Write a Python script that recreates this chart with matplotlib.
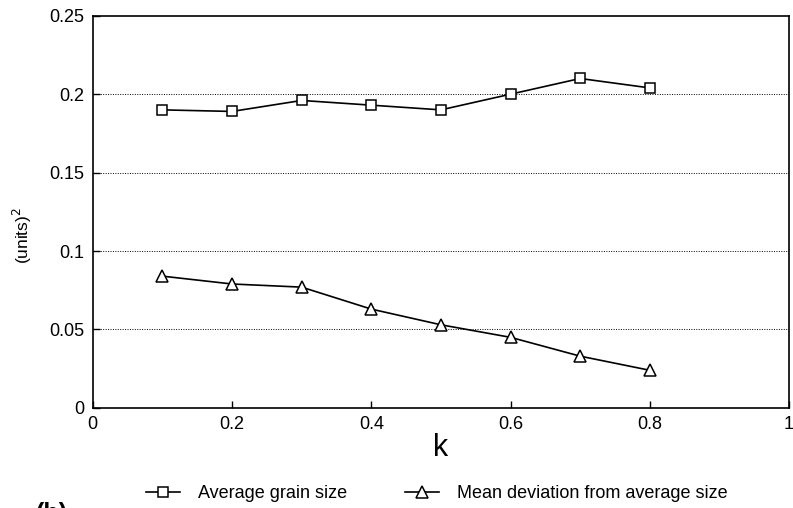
import matplotlib
matplotlib.use('Agg')
import matplotlib.pyplot as plt

plt.rcParams['font.family'] = ['Liberation Sans', 'DejaVu Sans']

# values
k = [0.1, 0.2, 0.3, 0.4, 0.5, 0.6, 0.7, 0.8]
avg_grain = [0.190, 0.189, 0.196, 0.193, 0.190, 0.200, 0.210, 0.204]
mean_dev = [0.084, 0.079, 0.077, 0.063, 0.053, 0.045, 0.033, 0.024]

xticks = [0, 0.2, 0.4, 0.6, 0.8, 1]
xticklabels = ['0', '0.2', '0.4', '0.6', '0.8', '1']
yticks = [0, 0.05, 0.1, 0.15, 0.2, 0.25]
yticklabels = ['0', '0.05', '0.1', '0.15', '0.2', '0.25']

fig = plt.figure(figsize=(7.93, 5.08), dpi=100)
ax = fig.add_axes([0.117, 0.197, 0.878, 0.772])

# dotted grid lines (not at 0 or top)
for y in yticks[1:-1]:
    ax.axhline(y, color='black', linestyle=(0, (1, 1.5)), linewidth=0.7, zorder=1)

ax.plot(k, avg_grain, color='black', linewidth=1.2, marker='s', markersize=7,
        markerfacecolor='white', markeredgewidth=1.1, label='Average grain size', zorder=3)
ax.plot(k, mean_dev, color='black', linewidth=1.2, marker='^', markersize=8,
        markerfacecolor='white', markeredgewidth=1.1,
        label='Mean deviation from average size', zorder=3)

ax.set_xlim(0, 1)
ax.set_ylim(0, 0.25)
ax.set_xticks(xticks)
ax.set_xticklabels(xticklabels)
ax.set_yticks(yticks)
ax.set_yticklabels(yticklabels)
ax.tick_params(direction='in', length=5, width=1, labelsize=13, pad=6)
for s in ax.spines.values():
    s.set_linewidth(1.2)

ax.set_xlabel('k', fontsize=22, labelpad=0)
ax.set_ylabel('(units)$^2$', fontsize=12.5)
ax.yaxis.set_label_coords(-0.084, 0.44)

fig.legend(loc='lower left', bbox_to_anchor=(0.163, -0.021), ncol=2, frameon=False,
           fontsize=13, handlelength=1.9, columnspacing=3.2, handletextpad=1.0)

fig.text(0.045, -0.012, '(b)', fontsize=18, fontweight='bold', va='center')

fig.savefig('out.png', dpi=100)
